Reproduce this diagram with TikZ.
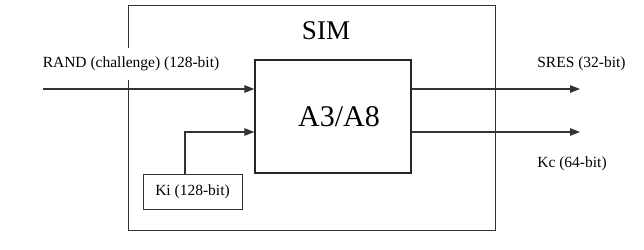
\documentclass[tikz,border=0pt]{standalone}
\usepackage{fontspec}
\setmainfont{Liberation Serif}
\usepackage{tikz}
\usetikzlibrary{shapes,arrows.meta,positioning}

\begin{document}
\begin{tikzpicture}[
      x=1pt, y=-1pt,
      simbox/.style={rectangle, draw=black!80, line width=0.9pt, minimum width=367pt, minimum height=225pt, inner sep=0pt},
      algblock/.style={rectangle, draw=black!85, line width=1.3pt, minimum width=156pt, minimum height=113pt, inner sep=0pt, font=\fontsize{30}{34}\selectfont},
      keyblock/.style={rectangle, draw=black!80, line width=1pt, minimum width=99pt, minimum height=35pt, inner sep=0pt, font=\fontsize{15.5}{18}\selectfont},
      lbl/.style={inner sep=0pt, font=\fontsize{15.5}{18}\selectfont},
      arrow/.style={-{Triangle[length=10pt,width=7.5pt]}, line width=1.2pt, draw=black!80}
    ]
    \useasboundingbox (0,0) rectangle (644,249);

    % SIM card with the algorithm inside
    \node[simbox] (sim) at (311.5,117.5) {};
    \node[inner sep=0pt, font=\fontsize{27}{30}\selectfont] (simtitle) at (326,31) {SIM};
    \node[algblock] (alg) at (333,116.5) {\hspace*{12pt}A3/A8\\[-2pt]};
    \node[keyblock] (ki) at (192.5,191.5) {Ki (128-bit)};

    % rows of the arrows
    \coordinate (randin) at (43,89);
    \coordinate (kirow) at (0,132);
    \coordinate (sresout) at (580,89);
    \coordinate (kcout) at (580,132);

    % labels (the RAND one hides the SIM border)
    \node[lbl, fill=white, inner xsep=4pt, inner ysep=9pt] (randlbl) at (131,64) {RAND (challenge) (128-bit)};
    \node[lbl] (sreslbl) at (581.5,64) {SRES (32-bit)};
    \node[lbl] (kclbl) at (572,164) {Kc (64-bit)};

    % inputs
    \draw[arrow] (randin) -- (randin -| alg.west);
    \draw[arrow] ([xshift=-7.5pt]ki.north) |- (alg.west |- kirow);

    % outputs
    \draw[arrow] (alg.east |- sresout) -- (sresout);
    \draw[arrow] (alg.east |- kcout) -- (kcout);
    \end{tikzpicture}
\end{document}
